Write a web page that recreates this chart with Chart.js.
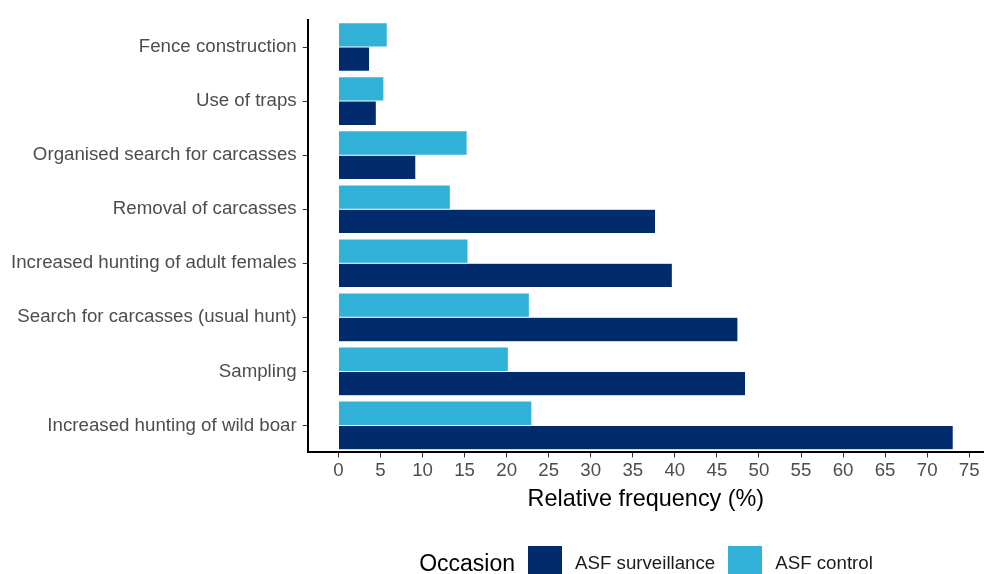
<!DOCTYPE html>
<html>
<head>
<meta charset="utf-8">
<script src="https://cdn.jsdelivr.net/npm/chart.js@4"></script>
<style>
  body { margin: 0; background: #fff; font-family: "Liberation Sans", Arial, sans-serif; }
  #wrap { position: relative; width: 984px; height: 574px; overflow: hidden; }
  #legend { position: absolute; left: 308px; right: 0; top: 546px; height: 34px; display: flex; justify-content: center; align-items: center; }
  #legend .ttl { font-size: 23px; color: #000; margin-right: 13px; }
  #legend .box { width: 34px; height: 34px; margin-right: 13px; }
  #legend .lbl { font-size: 18.7px; color: #1a1a1a; margin-right: 13px; }
  #legend .lbl:last-child { margin-right: 0; }
</style>
</head>
<body>
<div id="wrap">
  <canvas id="chart" width="984" height="574"></canvas>
  <div id="legend"></div>
</div>
<script>
// categories (top to bottom)
let measures = [
  "Fence construction",
  "Use of traps",
  "Organised search for carcasses",
  "Removal of carcasses",
  "Increased hunting of adult females",
  "Search for carcasses (usual hunt)",
  "Sampling",
  "Increased hunting of wild boar"
]

// relative frequency (%) per occasion
let surveillance = [3.7, 4.5, 9.2, 37.7, 39.7, 47.5, 48.4, 73.1]
let control = [5.8, 5.4, 15.3, 13.3, 15.4, 22.7, 20.2, 23.0]

// x axis tick labels
let x_ticks = [0, 5, 10, 15, 20, 25, 30, 35, 40, 45, 50, 55, 60, 65, 70, 75]

let legend_title = "Occasion"
let series_names = ["ASF surveillance", "ASF control"]
let series_colors = ["#012B6C", "#31B1D8"]

// legend in the ggplot style (title left of the keys)
let legend = document.getElementById("legend")
let t = document.createElement("span")
t.className = "ttl"
t.textContent = legend_title
legend.appendChild(t)
for (let i = 0; i < series_names.length; i++) {
  let b = document.createElement("span")
  b.className = "box"
  b.style.background = series_colors[i]
  legend.appendChild(b)
  let l = document.createElement("span")
  l.className = "lbl"
  l.textContent = series_names[i]
  legend.appendChild(l)
}

Chart.defaults.font.family = "'Liberation Sans', Arial, sans-serif"

new Chart(document.getElementById("chart"), {
  type: 'bar',
  data: {
    labels: measures,
    datasets: [
      {
        label: series_names[1],
        data: control,
        backgroundColor: series_colors[1],
        borderColor: "rgba(255,255,255,0.5)",
        borderWidth: 0.5
      },
      {
        label: series_names[0],
        data: surveillance,
        backgroundColor: series_colors[0],
        borderColor: "rgba(255,255,255,0.5)",
        borderWidth: 0.5
      }
    ]
  },
  options: {
    indexAxis: 'y',
    responsive: false,
    animation: false,
    layout: { padding: { left: 5, right: 0, top: 20, bottom: 60 } },
    datasets: { bar: { categoryPercentage: 0.9, barPercentage: 1.0 } },
    plugins: {
      legend: { display: false },
      tooltip: { enabled: false }
    },
    scales: {
      x: {
        type: 'linear',
        min: -3.66,
        max: 76.76,
        afterBuildTicks: (scale) => { scale.ticks = x_ticks.map(v => ({ value: v })) },
        grid: { drawOnChartArea: false, tickLength: 5, tickColor: "#333", tickWidth: 1 },
        border: { color: "#000", width: 2 },
        ticks: { color: "#4d4d4d", font: { size: 18.7 }, padding: 2, autoSkip: false, maxRotation: 0 },
        title: { display: true, text: "Relative frequency (%)", color: "#000", font: { size: 23.4 }, padding: { top: 2, bottom: 0 } }
      },
      y: {
        type: 'category',
        offset: true,
        grid: { drawOnChartArea: false, offset: false, tickLength: 5, tickColor: "#333", tickWidth: 1 },
        border: { color: "#000", width: 2 },
        ticks: { color: "#4d4d4d", font: { size: 18.7 }, padding: 6, autoSkip: false }
      }
    }
  }
});
</script>
</body>
</html>
